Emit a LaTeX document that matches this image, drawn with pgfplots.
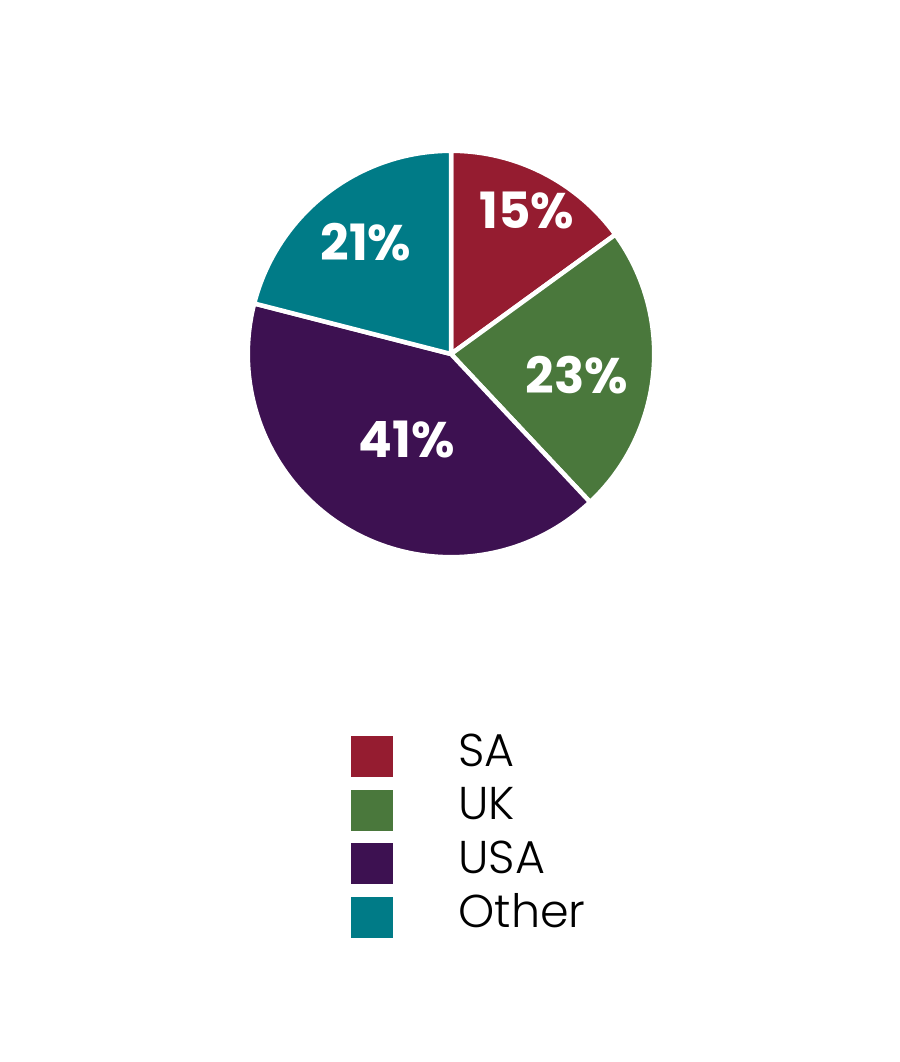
\documentclass[border=0pt]{standalone}
\usepackage{pgfplots}
\usepackage{pgfplotstable}
\pgfplotsset{compat=1.18}
\usepackage{fontspec}
\setmainfont{Poppins}
\newfontfamily\lightf{Poppins Light}
\definecolor{cSA}{RGB}{149,28,48}
\definecolor{cUK}{RGB}{74,120,60}
\definecolor{cUSA}{RGB}{61,17,81}
\definecolor{cOther}{RGB}{0,123,135}

\pgfplotstableread{
name value
SA 15
UK 23
USA 41
Other 21
}\piedata

\pgfplotstablegetelem{0}{value}\of\piedata \let\vA\pgfplotsretval
\pgfplotstablegetelem{1}{value}\of\piedata \let\vB\pgfplotsretval
\pgfplotstablegetelem{2}{value}\of\piedata \let\vC\pgfplotsretval
\pgfplotstablegetelem{3}{value}\of\piedata \let\vD\pgfplotsretval
\pgfmathsetmacro\aA{90}
\pgfmathsetmacro\aB{\aA-3.6*\vA}
\pgfmathsetmacro\aC{\aB-3.6*\vB}
\pgfmathsetmacro\aD{\aC-3.6*\vC}
\pgfmathsetmacro\aE{\aD-3.6*\vD}
\def\R{101.6pt}

\begin{document}
\begin{tikzpicture}
\begin{axis}[
  x=0.5pt, y=0.5pt,
  xmin=0, xmax=900, ymin=0, ymax=1062,
  hide axis, clip=false,
  scale only axis,
]
\path (axis cs:0,0) rectangle (axis cs:900,1062);
% pie slices
\filldraw[fill=cSA, draw=white, line width=2.25pt, line join=round]
  (axis cs:451,708) -- ++(\aA:\R) arc[start angle=\aA, end angle=\aB, radius=\R] -- cycle;
\filldraw[fill=cUK, draw=white, line width=2.25pt, line join=round]
  (axis cs:451,708) -- ++(\aB:\R) arc[start angle=\aB, end angle=\aC, radius=\R] -- cycle;
\filldraw[fill=cUSA, draw=white, line width=2.25pt, line join=round]
  (axis cs:451,708) -- ++(\aC:\R) arc[start angle=\aC, end angle=\aD, radius=\R] -- cycle;
\filldraw[fill=cOther, draw=white, line width=2.25pt, line join=round]
  (axis cs:451,708) -- ++(\aD:\R) arc[start angle=\aD, end angle=\aE, radius=\R] -- cycle;
% labels
\begin{scope}[every node/.style={text=white, font=\bfseries\fontsize{25}{25}\selectfont, inner sep=0pt}]
\node at (axis cs:527,851) {15\%};
\node at (axis cs:577,687) {23\%};
\node at (axis cs:407,622) {41\%};
\node at (axis cs:366,820) {21\%};
\end{scope}
% legend
\fill[cSA] (axis cs:351,285) rectangle (axis cs:393,326);
\fill[cUK] (axis cs:351,231) rectangle (axis cs:393,272);
\fill[cUSA] (axis cs:351,178) rectangle (axis cs:393,219);
\fill[cOther] (axis cs:351,124) rectangle (axis cs:393,165);
\begin{scope}[every node/.style={anchor=base west, inner sep=0pt, font=\lightf\fontsize{23}{23}\selectfont}]
\node at (axis cs:458,295) {SA};
\node at (axis cs:458,242) {UK};
\node at (axis cs:458,188) {USA};
\node at (axis cs:458,134) {Other};
\end{scope}
\end{axis}
\end{tikzpicture}
\end{document}
